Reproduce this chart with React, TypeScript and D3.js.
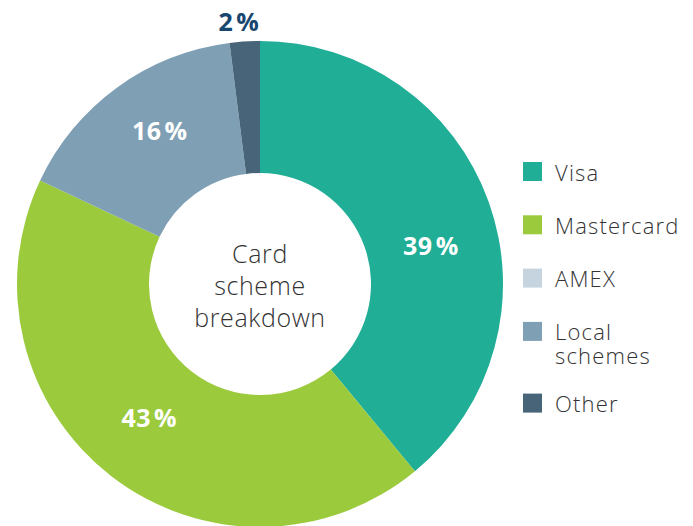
import React, { useEffect, useRef } from "react";
import * as d3 from "d3";

// slice data, clockwise from 12 o'clock
const categories = ["Visa", "Mastercard", "AMEX", "Local schemes", "Other"];
const shares = [39, 43, 0, 16, 2];
const colors = ["#20ae96", "#9bca3d", "#c6d4df", "#7f9fb5", "#476478"];
const legendLines = [["Visa"], ["Mastercard"], ["AMEX"], ["Local", "schemes"], ["Other"]];
const centerTitle = ["Card", "scheme", "breakdown"];

const App = () => {
  const ref = useRef<SVGSVGElement>(null);

  useEffect(() => {
    const width = 693;
    const height = 526;
    const cx = 260;
    const cy = 284;
    const outerR = 243;
    const innerR = 111;

    const svg = d3.select(ref.current);
    svg.selectAll("*").remove();
    svg.attr("width", width).attr("height", height);

    const g = svg.append("g").attr("transform", `translate(${cx},${cy})`);

    interface Slice {
      name: string;
      value: number;
      color: string;
    }
    const data: Slice[] = categories.map((c, i) => ({ name: c, value: shares[i], color: colors[i] }));

    const pie = d3
      .pie<Slice>()
      .sort(null)
      .value((d) => d.value);
    const arcs = pie(data);

    const arc = d3.arc<d3.PieArcDatum<Slice>>().innerRadius(innerR).outerRadius(outerR);

    g.selectAll("path.slice")
      .data(arcs)
      .enter()
      .append("path")
      .attr("class", "slice")
      .attr("fill", (d) => d.data.color)
      .attr("d", arc);

    // label placement: small nudges (degrees, radius) so they sit like the original
    const labelTweak: Record<string, [number, number]> = {
      Visa: [7.3, 175],
      Mastercard: [1.7, 174],
      "Local schemes": [2.8, 183],
      Other: [-1, 263],
    };

    const pct = g
      .selectAll("text.pct")
      .data(arcs.filter((d) => d.data.value > 0))
      .enter()
      .append("text")
      .attr("class", "pct")
      .attr("transform", (d) => {
        const t = labelTweak[d.data.name] || [0, 177];
        const a = (d.startAngle + d.endAngle) / 2 + (t[0] * Math.PI) / 180;
        return `translate(${Math.sin(a) * t[1]},${-Math.cos(a) * t[1]})`;
      })
      .attr("text-anchor", "middle")
      .attr("dy", "0.36em")
      .attr("font-family", "'Open Sans', sans-serif")
      .attr("font-weight", 700)
      .attr("font-size", 25)
      .attr("letter-spacing", 0.5)
      .attr("fill", (d) => (d.data.name === "Other" ? "#17466f" : "#ffffff"));
    pct.append("tspan").text((d) => `${d.data.value}`);
    pct.append("tspan").attr("dx", 3).text("%");

    // title in the hole
    g.append("text")
      .attr("text-anchor", "middle")
      .attr("font-family", "'Open Sans', sans-serif")
      .attr("font-weight", 300)
      .attr("font-size", 25)
      .attr("letter-spacing", 0.6)
      .attr("fill", "#333333")
      .selectAll("tspan")
      .data(centerTitle)
      .enter()
      .append("tspan")
      .attr("x", 0)
      .attr("y", (d, i) => -21 + i * 32)
      .text((d) => d);

    // legend
    const legend = svg.append("g").attr("transform", "translate(523,162)");
    let y = 0;
    legendLines.forEach((lines, i) => {
      const item = legend.append("g").attr("transform", `translate(0,${y})`);
      item.append("rect").attr("width", 19).attr("height", 19).attr("fill", colors[i]);
      const t = item
        .append("text")
        .attr("font-family", "'Open Sans', sans-serif")
        .attr("font-weight", 300)
        .attr("font-size", 22)
        .attr("letter-spacing", 1.2)
        .attr("fill", "#333333");
      lines.forEach((l, j) => {
        t.append("tspan").attr("x", 32).attr("y", 18.5 + j * 24).text(l);
      });
      y += 53.3 + (lines.length - 1) * 18.4;
    });
  }, []);

  return (
    <div style={{ position: "absolute", left: 0, top: 0 }}>
      <svg ref={ref} style={{ display: "block" }} />
    </div>
  );
};

export default App;
